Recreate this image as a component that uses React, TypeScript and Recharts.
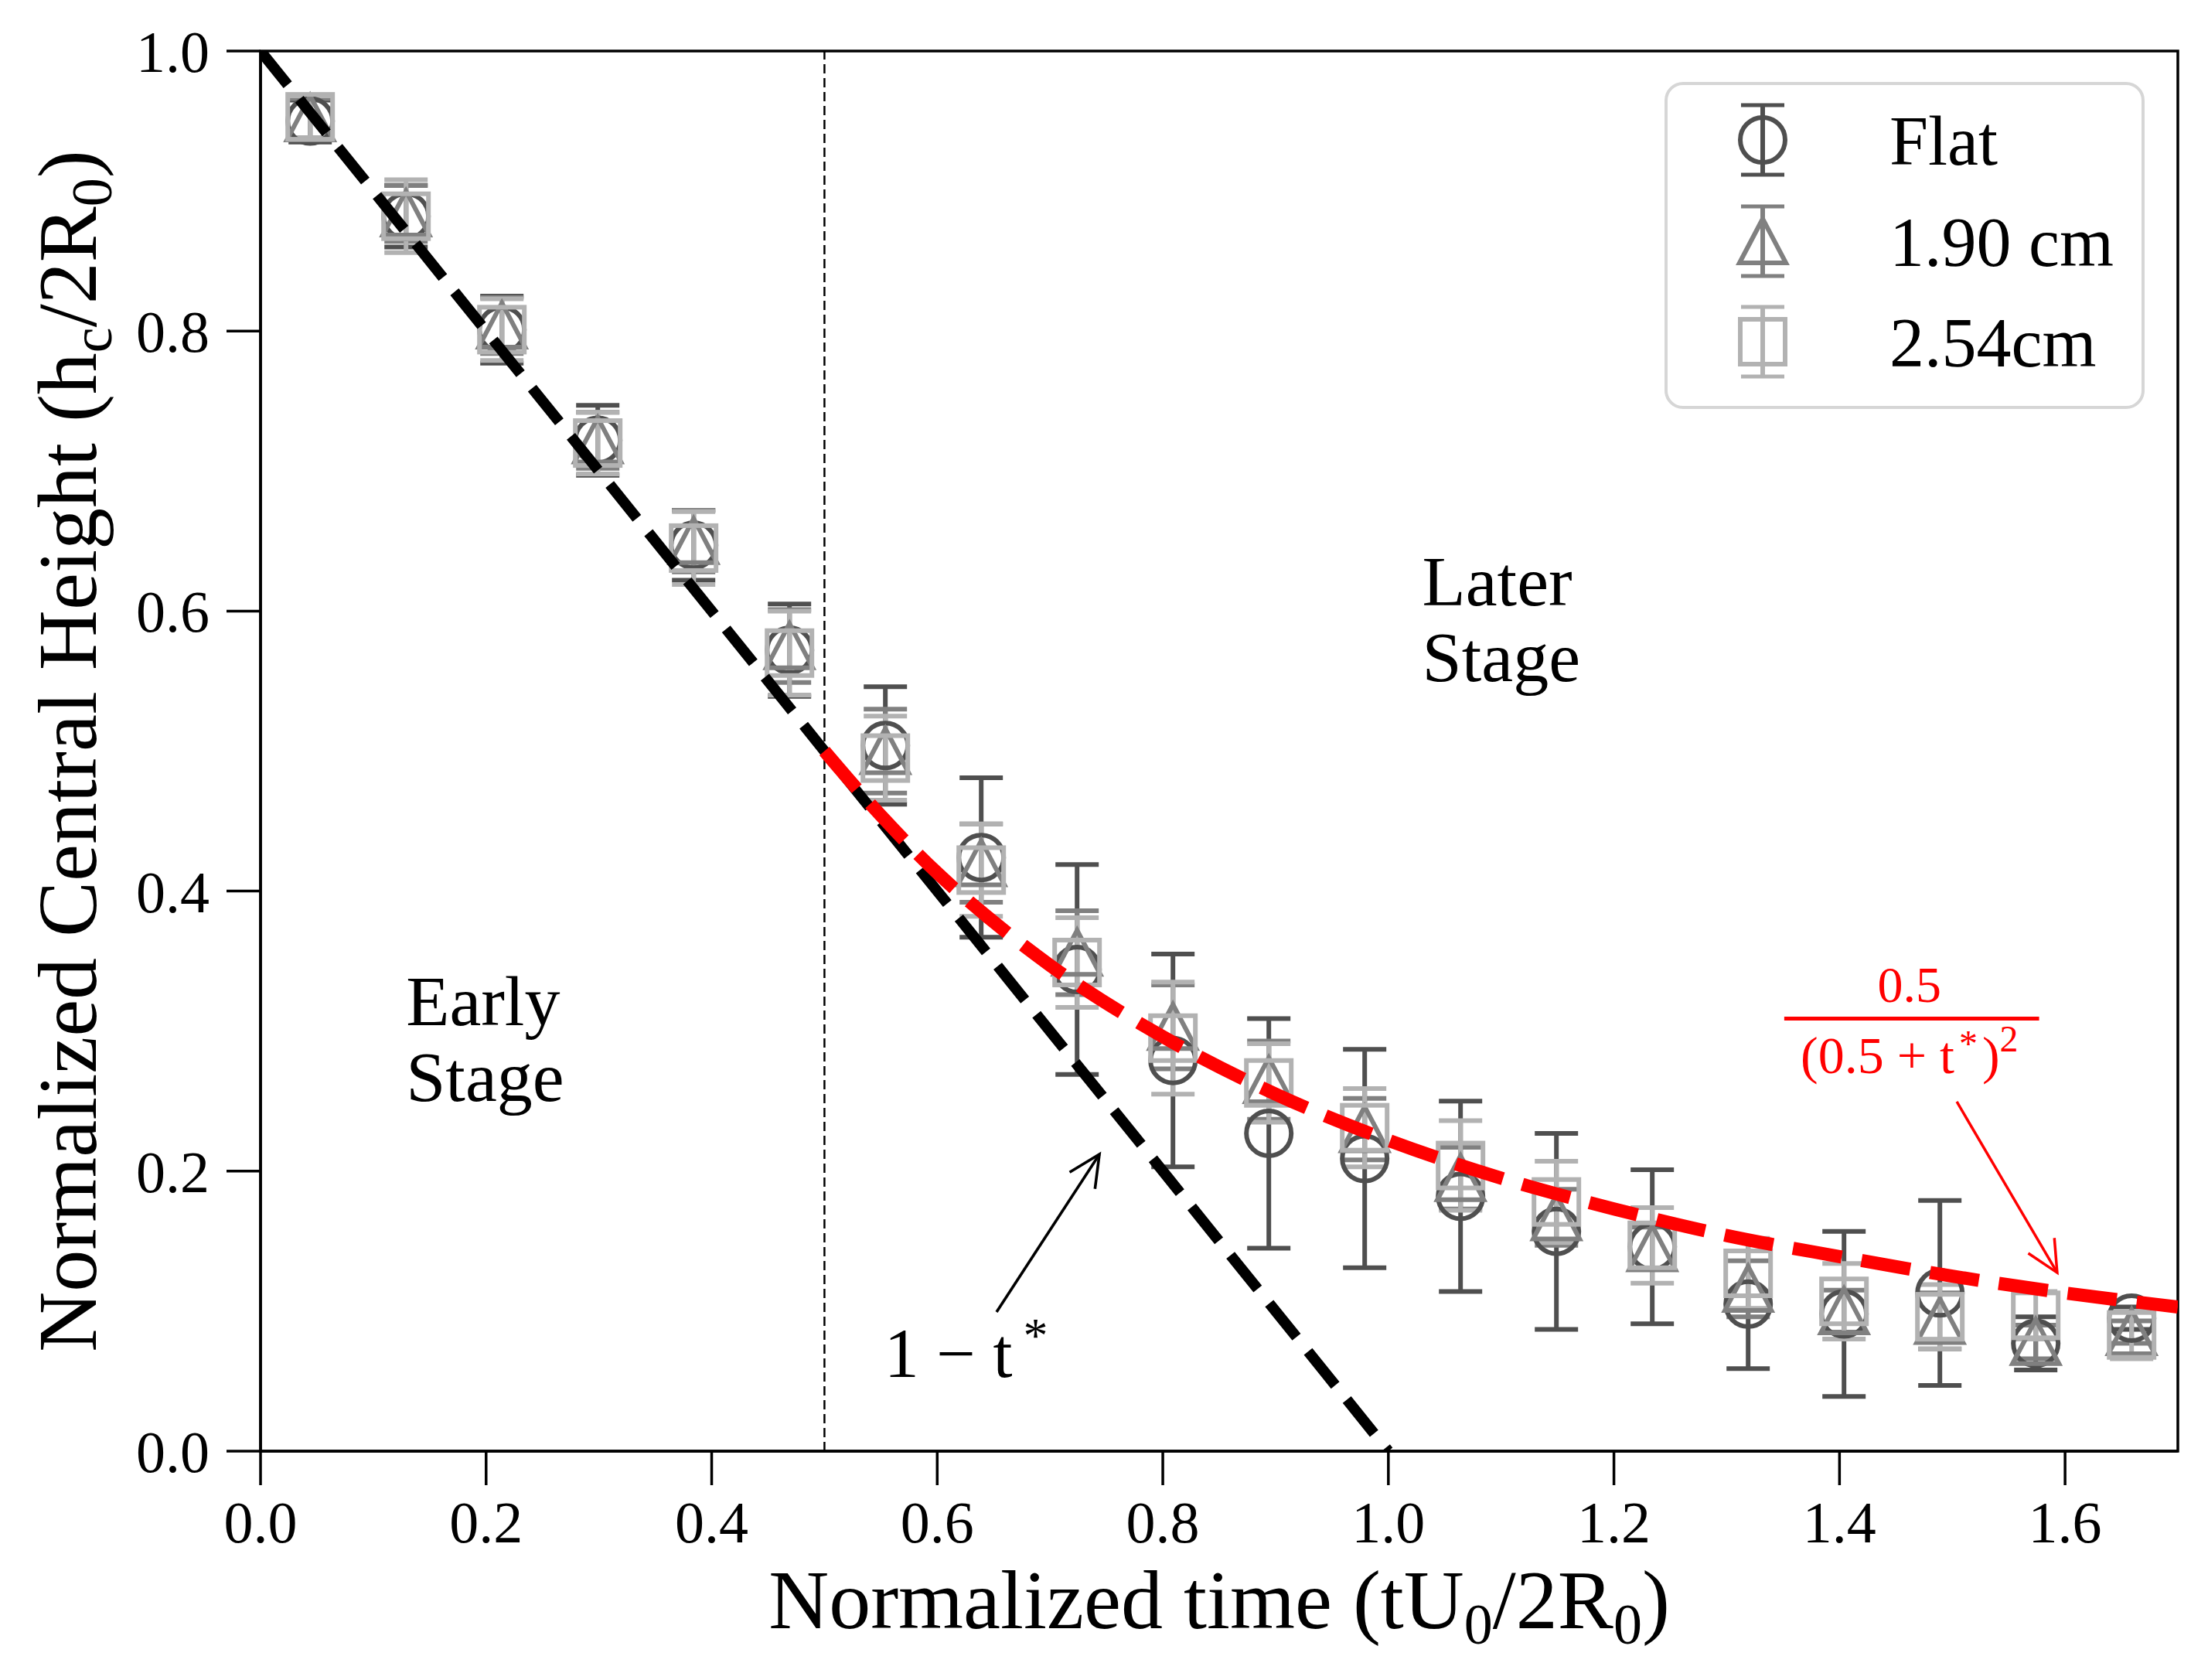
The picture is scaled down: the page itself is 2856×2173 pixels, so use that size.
import React from 'react';
import {
  ComposedChart,
  Line,
  Scatter,
  ErrorBar,
  XAxis,
  YAxis,
  ReferenceLine,
  ReferenceDot,
  ReferenceArea,
  Customized,
} from 'recharts';

// normalized time of each measurement
const times = [
  0.044, 0.129, 0.214, 0.299, 0.384, 0.469, 0.554, 0.639, 0.724, 0.809,
  0.894, 0.979, 1.064, 1.149, 1.234, 1.319, 1.404, 1.489, 1.574, 1.659,
];

// Flat
const flatH = [
  0.95, 0.882, 0.801, 0.722, 0.647, 0.572, 0.504, 0.424, 0.344, 0.279,
  0.227, 0.209, 0.182, 0.157, 0.146, 0.105, 0.098, 0.113, 0.077, 0.095,
];
const flatErr = [
  0.015, 0.022, 0.024, 0.025, 0.025, 0.033, 0.042, 0.057, 0.075, 0.076,
  0.082, 0.078, 0.068, 0.07, 0.055, 0.046, 0.059, 0.066, 0.019, 0.008,
];

// 1.90 cm
const h190 = [
  0.952, 0.884, 0.804, 0.722, 0.65, 0.575, 0.5, 0.42, 0.356, 0.303,
  0.265, 0.23, 0.195, 0.167, 0.145, 0.116, 0.1, 0.093, 0.078, 0.085,
];
const err190 = [
  0.014, 0.02, 0.02, 0.02, 0.022, 0.026, 0.03, 0.028, 0.03, 0.03,
  0.028, 0.022, 0.022, 0.02, 0.015, 0.02, 0.015, 0.02, 0.012, 0.008,
];

// 2.54cm
const h254 = [
  0.953, 0.882, 0.801, 0.72, 0.645, 0.57, 0.495, 0.415, 0.349, 0.295,
  0.263, 0.231, 0.204, 0.178, 0.147, 0.127, 0.107, 0.096, 0.097, 0.083,
];
const err254 = [
  0.015, 0.026, 0.022, 0.022, 0.026, 0.03, 0.03, 0.033, 0.032, 0.04,
  0.028, 0.028, 0.032, 0.029, 0.027, 0.025, 0.027, 0.023, 0.017, 0.017,
];

// early stage model 1 - t*
const earlyT = [0, 1];
const earlyH = [1, 0];

// later stage model 0.5 / (0.5 + t*)^2
const laterT = [0.5, 0.55, 0.6, 0.65, 0.7, 0.8, 0.9, 1.0, 1.1, 1.2, 1.3, 1.4, 1.5, 1.6, 1.7];
const laterH = [0.5, 0.454, 0.413, 0.378, 0.347, 0.296, 0.255, 0.222, 0.195, 0.173, 0.154, 0.139, 0.125, 0.113, 0.103];

const xTicks = [0, 0.2, 0.4, 0.6, 0.8, 1.0, 1.2, 1.4, 1.6];
const yTicks = [0, 0.2, 0.4, 0.6, 0.8, 1.0];

const seriesNames = ['Flat', '1.90 cm', '2.54cm'];
const seriesColors = ['#4f4f4f', '#808080', '#b2b2b2'];

const FONT = "'Liberation Serif', 'DejaVu Serif', serif";

const toPoints = (xs: number[], ys: number[], errs?: number[]) =>
  xs.map((x, i) => ({ x, y: ys[i], err: errs ? errs[i] : 0 }));

const flatData = toPoints(times, flatH, flatErr);
const data190 = toPoints(times, h190, err190);
const data254 = toPoints(times, h254, err254);
const earlyLine = toPoints(earlyT, earlyH);
const laterLine = toPoints(laterT, laterH);

const MW = 6; // marker stroke

const Marker = ({ kind, cx, cy, color }: { kind: number; cx: number; cy: number; color: string }) => {
  if (kind === 0)
    return <circle cx={cx} cy={cy} r={29} fill="none" stroke={color} strokeWidth={MW} />;
  if (kind === 1)
    return (
      <polygon
        points={`${cx},${cy - 29} ${cx - 30},${cy + 28} ${cx + 30},${cy + 28}`}
        fill="none"
        stroke={color}
        strokeWidth={MW}
        strokeLinejoin="miter"
      />
    );
  return <rect x={cx - 29} y={cy - 29} width={58} height={58} fill="none" stroke={color} strokeWidth={MW} />;
};

const shapeFor = (kind: number) => (p: any) =>
  <Marker kind={kind} cx={p.cx} cy={p.cy} color={seriesColors[kind]} />;

const Arrow = (p: any) => {
  const { x1, y1, x2, y2, stroke, strokeWidth } = p;
  const head = 45;
  const back = Math.atan2(y1 - y2, x1 - x2);
  const a = back - 0.45;
  const b = back + 0.45;
  return (
    <g>
      <line x1={x1} y1={y1} x2={x2} y2={y2} stroke={stroke} strokeWidth={strokeWidth} />
      <polyline
        points={`${x2 + head * Math.cos(a)},${y2 + head * Math.sin(a)} ${x2},${y2} ${x2 + head * Math.cos(b)},${y2 + head * Math.sin(b)}`}
        fill="none"
        stroke={stroke}
        strokeWidth={strokeWidth}
      />
    </g>
  );
};

const textAt = (content: React.ReactNode, size: number, color = '#000', anchor = 'start') => (p: any) =>
  (
    <text x={p.cx} y={p.cy} fontSize={size} fill={color} fontFamily={FONT} textAnchor={anchor}>
      {content}
    </text>
  );

const LABEL_SIZE = 108;

const XLabel = (props: any) => {
  const vb = props.viewBox;
  return (
    <text x={vb.x + vb.width / 2} y={vb.y + 229} textAnchor="middle" fontSize={LABEL_SIZE} fontFamily={FONT} fill="#000">
      Normalized time (tU
      <tspan dy={20} fontSize={74}>0</tspan>
      <tspan dy={-20}>/2R</tspan>
      <tspan dy={20} fontSize={74}>0</tspan>
      <tspan dy={-20}>)</tspan>
    </text>
  );
};

const YLabel = (props: any) => {
  const vb = props.viewBox;
  const x = 124;
  const y = vb.y + vb.height / 2;
  return (
    <text
      x={x}
      y={y}
      transform={`rotate(-90, ${x}, ${y})`}
      textAnchor="middle"
      fontSize={LABEL_SIZE}
      fontFamily={FONT}
      fill="#000"
    >
      Normalized Central Height (h
      <tspan dy={20} fontSize={74}>c</tspan>
      <tspan dy={-20}>/2R</tspan>
      <tspan dy={20} fontSize={74}>0</tspan>
      <tspan dy={-20}>)</tspan>
    </text>
  );
};

const LegendBox = () => {
  const rows = [181, 312, 442];
  const mx = 2280;
  return (
    <g>
      <rect x={2155} y={108} width={617} height={419} rx={22} fill="#fff" stroke="#d6d6d6" strokeWidth={4} />
      {seriesNames.map((name, i) => {
        const cy = rows[i];
        const c = seriesColors[i];
        return (
          <g key={name}>
            <line x1={mx} y1={cy - 45} x2={mx} y2={cy + 45} stroke={c} strokeWidth={6} />
            <line x1={mx - 28} y1={cy - 45} x2={mx + 28} y2={cy - 45} stroke={c} strokeWidth={5} />
            <line x1={mx - 28} y1={cy + 45} x2={mx + 28} y2={cy + 45} stroke={c} strokeWidth={5} />
            <Marker kind={i} cx={mx} cy={cy} color={c} />
            <text x={2444} y={cy + 32} fontSize={90} fontFamily={FONT} fill="#000">
              {name}
            </text>
          </g>
        );
      })}
    </g>
  );
};

const App = () => {
  const tickStyle = { fill: '#000', fontSize: 76, fontFamily: FONT };
  return (
    <div style={{ position: 'fixed', left: 0, top: 0, width: 2856, height: 2173, background: '#fff' }}>
      <ComposedChart width={2856} height={2173} margin={{ top: 66, right: 39, left: 0, bottom: 0 }}>
        <XAxis
          dataKey="x"
          type="number"
          domain={[0, 1.7]}
          allowDataOverflow
          ticks={xTicks}
          tickFormatter={(v: number) => v.toFixed(1)}
          tick={tickStyle}
          tickSize={44}
          tickMargin={20}
          height={296}
          axisLine={{ stroke: '#000', strokeWidth: 3.5 }}
          tickLine={{ stroke: '#000', strokeWidth: 3.5 }}
          label={(p: any) => <XLabel {...p} />}
        />
        <YAxis
          dataKey="y"
          type="number"
          domain={[0, 1]}
          allowDataOverflow
          ticks={yTicks}
          tickFormatter={(v: number) => v.toFixed(1)}
          tick={tickStyle}
          tickSize={44}
          tickMargin={22}
          width={337}
          axisLine={{ stroke: '#000', strokeWidth: 3.5 }}
          tickLine={{ stroke: '#000', strokeWidth: 3.5 }}
          label={(p: any) => <YLabel {...p} />}
        />
        <ReferenceArea x1={0} x2={1.7} y1={0} y2={1} fill="none" stroke="#000" strokeWidth={3.5} />
        <ReferenceLine x={0.5} stroke="#000" strokeWidth={2.5} strokeDasharray="12 6" />

        <Scatter data={flatData} dataKey="y" shape={shapeFor(0)} isAnimationActive={false}>
          <ErrorBar dataKey="err" direction="y" width={28} stroke={seriesColors[0]} strokeWidth={6} isAnimationActive={false} />
        </Scatter>
        <Scatter data={data190} dataKey="y" shape={shapeFor(1)} isAnimationActive={false}>
          <ErrorBar dataKey="err" direction="y" width={28} stroke={seriesColors[1]} strokeWidth={6} isAnimationActive={false} />
        </Scatter>
        <Scatter data={data254} dataKey="y" shape={shapeFor(2)} isAnimationActive={false}>
          <ErrorBar dataKey="err" direction="y" width={28} stroke={seriesColors[2]} strokeWidth={6} isAnimationActive={false} />
        </Scatter>

        <Line
          data={earlyLine}
          dataKey="y"
          type="linear"
          stroke="#000"
          strokeWidth={14}
          strokeDasharray="56 24"
          dot={false}
          activeDot={false}
          isAnimationActive={false}
          zIndex={700}
        />
        <Line
          data={laterLine}
          dataKey="y"
          type="monotone"
          stroke="#ff0000"
          strokeWidth={17}
          strokeDasharray="64 26"
          dot={false}
          activeDot={false}
          isAnimationActive={false}
          zIndex={700}
        />

        <ReferenceDot x={0.129} y={0.304} r={0} shape={textAt('Early', 92)} />
        <ReferenceDot x={0.129} y={0.25} r={0} shape={textAt('Stage', 92)} />
        <ReferenceDot x={1.03} y={0.604} r={0} shape={textAt('Later', 92)} />
        <ReferenceDot x={1.03} y={0.55} r={0} shape={textAt('Stage', 92)} />
        <ReferenceDot
          x={0.553}
          y={0.053}
          r={0}
          shape={textAt(
            <>
              1 − t<tspan dx={14} dy={-32} fontSize={64}>*</tspan>
            </>,
            90
          )}
        />
        <ReferenceLine
          segment={[{ x: 0.6526, y: 0.0994 }, { x: 0.7438, y: 0.212 }]}
          stroke="#000"
          strokeWidth={3.6}
          shape={Arrow}
        />

        <ReferenceDot x={1.462} y={0.321} r={0} shape={textAt('0.5', 66, '#ff0000', 'middle')} />
        <ReferenceLine segment={[{ x: 1.351, y: 0.309 }, { x: 1.577, y: 0.309 }]} stroke="#ff0000" strokeWidth={5} />
        <ReferenceDot
          x={1.462}
          y={0.27}
          r={0}
          shape={textAt(
            <>
              (0.5 + t<tspan dx={6} dy={-22} fontSize={48}>*</tspan>
              <tspan dx={6} dy={22}>)</tspan>
              <tspan dy={-28} fontSize={48}>2</tspan>
            </>,
            68,
            '#ff0000',
            'middle'
          )}
        />
        <ReferenceLine
          segment={[{ x: 1.504, y: 0.2496 }, { x: 1.593, y: 0.1275 }]}
          stroke="#ff0000"
          strokeWidth={3.5}
          shape={Arrow}
        />

        <Customized component={LegendBox} />
      </ComposedChart>
    </div>
  );
};

export default App;
